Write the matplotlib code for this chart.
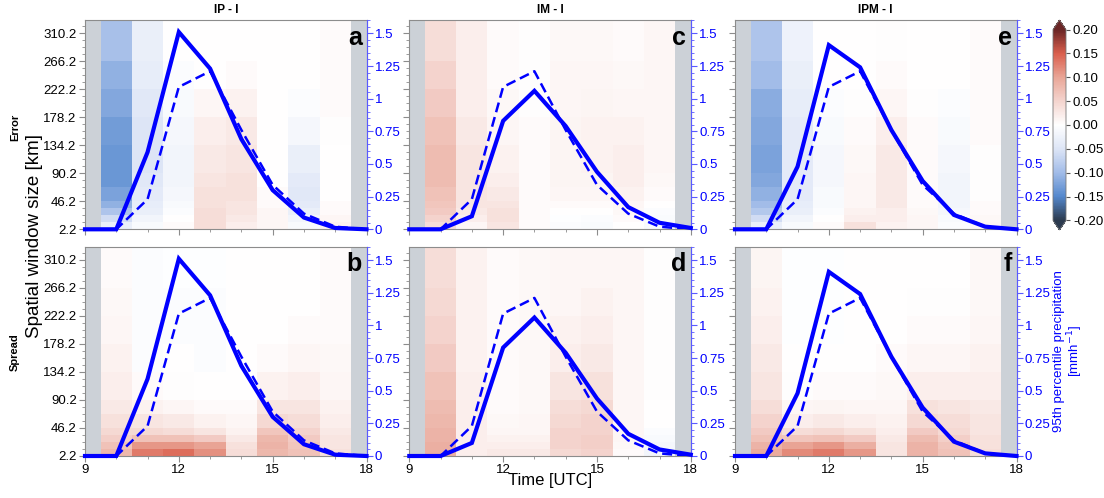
import numpy as np
import matplotlib
matplotlib.use('Agg')
import matplotlib.pyplot as plt
from matplotlib.colors import LinearSegmentedColormap, Normalize
from matplotlib.ticker import MultipleLocator, FixedLocator, FormatStrFormatter

plt.rcParams['font.family'] = ['Liberation Sans', 'DejaVu Sans']

# hourly 95th percentile precipitation [mm/h]
hours = [9, 10, 11, 12, 13, 14, 15, 16, 17, 18]
precip_I = [0, 0, 0.23, 1.09, 1.21, 0.76, 0.34, 0.12, 0.02, 0.0]
precip_IP = [0, 0, 0.59, 1.51, 1.23, 0.69, 0.30, 0.09, 0.01, 0.0]
precip_IM = [0, 0, 0.10, 0.83, 1.06, 0.79, 0.44, 0.17, 0.05, 0.01]
precip_IPM = [0, 0, 0.48, 1.41, 1.24, 0.76, 0.37, 0.11, 0.02, 0.0]

# score differences per hour (10..17 UTC), window sizes listed bottom to top
win_edges = [2.2, 13.2, 24.2, 35.2, 46.2, 68.2, 90.2, 134.2, 178.2, 222.2, 266.2, 330.2]
score_hours = [10, 11, 12, 13, 14, 15, 16, 17]

err_IP = [
    [-0.03, -0.06, -0.09, -0.11, -0.125, -0.135, -0.135, -0.13, -0.12, -0.11, -0.095],
    [-0.01, -0.02, -0.03, -0.035, -0.04, -0.045, -0.05, -0.05, -0.045, -0.035, -0.03],
    [0.005, 0.0, -0.005, -0.01, -0.015, -0.02, -0.02, -0.015, -0.01, -0.005, 0.0],
    [0.04, 0.04, 0.04, 0.035, 0.035, 0.03, 0.025, 0.02, 0.01, 0.0, 0.0],
    [0.02, 0.025, 0.03, 0.03, 0.035, 0.035, 0.03, 0.025, 0.015, 0.005, 0.0],
    [0.01, 0.01, 0.01, 0.005, 0.005, 0.0, 0.0, 0.0, 0.0, 0.0, 0.0],
    [-0.01, -0.02, -0.03, -0.04, -0.045, -0.04, -0.03, -0.015, -0.005, 0.0, 0.0],
    [0.015, 0.01, 0.005, 0.005, 0.0, 0.0, 0.0, 0.003, 0.005, 0.005, 0.005],
]
spr_IP = [
    [0.08, 0.07, 0.055, 0.045, 0.035, 0.025, 0.02, 0.015, 0.01, 0.008, 0.005],
    [0.13, 0.11, 0.07, 0.045, 0.03, 0.015, 0.005, -0.005, -0.005, -0.005, -0.005],
    [0.14, 0.11, 0.07, 0.04, 0.025, 0.01, 0.003, 0.0, -0.005, -0.005, -0.003],
    [0.115, 0.1, 0.06, 0.03, 0.015, 0.005, 0.0, -0.005, -0.005, -0.005, -0.003],
    [0.04, 0.035, 0.025, 0.015, 0.01, 0.005, 0.0, 0.0, 0.0, 0.0, 0.0],
    [0.08, 0.085, 0.08, 0.065, 0.045, 0.03, 0.015, 0.005, 0.0, 0.0, 0.0],
    [0.07, 0.065, 0.06, 0.05, 0.04, 0.03, 0.02, 0.01, 0.005, 0.0, 0.0],
    [0.035, 0.03, 0.03, 0.025, 0.02, 0.015, 0.01, 0.008, 0.005, 0.005, 0.005],
]
err_IM = [
    [0.04, 0.05, 0.06, 0.065, 0.07, 0.075, 0.075, 0.07, 0.06, 0.05, 0.04],
    [0.01, 0.02, 0.025, 0.03, 0.03, 0.03, 0.03, 0.025, 0.02, 0.02, 0.02],
    [0.03, 0.035, 0.035, 0.03, 0.025, 0.02, 0.015, 0.01, 0.008, 0.005, 0.005],
    [0.005, 0.005, 0.005, 0.005, 0.005, 0.005, 0.005, 0.005, 0.003, 0.002, 0.002],
    [-0.005, -0.003, 0.0, 0.005, 0.01, 0.012, 0.012, 0.012, 0.01, 0.01, 0.008],
    [-0.008, -0.005, 0.0, 0.005, 0.01, 0.012, 0.015, 0.015, 0.012, 0.01, 0.008],
    [0.0, 0.005, 0.008, 0.01, 0.015, 0.02, 0.02, 0.015, 0.01, 0.008, 0.005],
    [-0.01, -0.008, -0.005, 0.0, 0.005, 0.008, 0.01, 0.01, 0.01, 0.01, 0.01],
]
spr_IM = [
    [0.09, 0.09, 0.085, 0.085, 0.08, 0.075, 0.07, 0.06, 0.05, 0.045, 0.04],
    [0.02, 0.02, 0.02, 0.02, 0.02, 0.02, 0.018, 0.015, 0.015, 0.015, 0.015],
    [0.025, 0.02, 0.015, 0.01, 0.008, 0.005, 0.005, 0.005, 0.005, 0.005, 0.005],
    [0.025, 0.02, 0.015, 0.01, 0.01, 0.008, 0.008, 0.008, 0.008, 0.008, 0.008],
    [0.045, 0.05, 0.05, 0.05, 0.045, 0.04, 0.03, 0.02, 0.015, 0.01, 0.01],
    [0.05, 0.055, 0.055, 0.05, 0.05, 0.045, 0.035, 0.025, 0.02, 0.015, 0.01],
    [0.005, 0.008, 0.01, 0.01, 0.01, 0.01, 0.01, 0.01, 0.01, 0.01, 0.01],
    [-0.02, -0.015, -0.01, -0.005, 0.0, 0.0, 0.003, 0.003, 0.003, 0.003, 0.003],
]
err_IPM = [
    [-0.03, -0.06, -0.085, -0.1, -0.11, -0.12, -0.125, -0.12, -0.115, -0.1, -0.09],
    [-0.01, -0.02, -0.03, -0.035, -0.04, -0.04, -0.04, -0.04, -0.035, -0.03, -0.025],
    [0.005, 0.0, -0.005, -0.01, -0.01, -0.015, -0.015, -0.01, -0.005, 0.0, 0.0],
    [0.035, 0.02, 0.015, 0.01, 0.01, 0.01, 0.008, 0.005, 0.003, 0.0, 0.0],
    [0.015, 0.02, 0.02, 0.025, 0.025, 0.025, 0.025, 0.02, 0.01, 0.005, 0.003],
    [0.01, 0.01, 0.008, 0.005, 0.005, 0.005, 0.005, 0.005, 0.003, 0.0, 0.0],
    [-0.005, -0.01, -0.015, -0.02, -0.02, -0.02, -0.015, -0.01, -0.005, 0.0, 0.0],
    [0.01, 0.008, 0.005, 0.005, 0.003, 0.003, 0.003, 0.005, 0.005, 0.005, 0.005],
]
spr_IPM = [
    [0.095, 0.085, 0.07, 0.06, 0.05, 0.04, 0.03, 0.025, 0.02, 0.015, 0.012],
    [0.12, 0.1, 0.065, 0.04, 0.02, 0.01, 0.003, 0.0, -0.003, -0.003, -0.003],
    [0.13, 0.11, 0.07, 0.045, 0.025, 0.012, 0.005, 0.0, -0.003, -0.003, -0.003],
    [0.11, 0.09, 0.06, 0.035, 0.02, 0.01, 0.005, 0.0, 0.0, 0.0, 0.0],
    [0.03, 0.03, 0.025, 0.02, 0.015, 0.01, 0.008, 0.005, 0.0, 0.0, 0.0],
    [0.085, 0.085, 0.075, 0.06, 0.045, 0.035, 0.02, 0.01, 0.005, 0.003, 0.0],
    [0.07, 0.065, 0.055, 0.045, 0.04, 0.03, 0.02, 0.01, 0.005, 0.003, 0.0],
    [0.04, 0.035, 0.035, 0.03, 0.03, 0.025, 0.02, 0.015, 0.01, 0.008, 0.008],
]

titles = ['IP - I', 'IM - I', 'IPM - I']
letters = [['a', 'c', 'e'], ['b', 'd', 'f']]
scores = [[err_IP, err_IM, err_IPM], [spr_IP, spr_IM, spr_IPM]]
exp_lines = [precip_IP, precip_IM, precip_IPM]
cbar_ticks = [-0.2, -0.15, -0.1, -0.05, 0.0, 0.05, 0.1, 0.15, 0.2]
cbar_labels = ['-0.20', '-0.15', '-0.10', '-0.05', '0.00', '0.05', '0.10', '0.15', '0.20']

cmap = LinearSegmentedColormap.from_list('diff', [
    (0.0, '#2c3b4f'), (0.125, '#5488cd'), (0.25, '#a2bce8'), (0.375, '#dde5f6'),
    (0.5, '#ffffff'), (0.625, '#f4d4ce'), (0.75, '#e9a697'), (0.875, '#da5f4d'),
    (1.0, '#6b2626')])
cmap.set_over('#6b2626')
cmap.set_under('#2c3b4f')
norm = Normalize(vmin=-0.2, vmax=0.2)

blue = '#0000ff'
gray_bg = '#ccd1d7'
spine_gray = '#8c8c8c'

fig = plt.figure(figsize=(11.04, 4.98), dpi=100)

lefts = [85 / 1104, 409.3 / 1104, 735 / 1104]
bottoms = [1 - 229.3 / 498, 1 - 456 / 498]
w = 281.5 / 1104
h = 209 / 498

x_edges = np.arange(9.5, 18.0, 1.0)
yticks = np.arange(2.2, 320, 44)

for r in range(2):
    for c in range(3):
        ax = fig.add_axes([lefts[c], bottoms[r], w, h])
        ax.set_facecolor(gray_bg)
        Z = np.array(scores[r][c]).T
        ax.pcolormesh(x_edges, win_edges, Z, cmap=cmap, norm=norm, shading='flat')
        ax.set_xlim(9, 18)
        ax.set_ylim(2.2, 330.2)

        ax.set_yticks(yticks)
        ax.yaxis.set_minor_locator(FixedLocator(np.arange(2.2, 331, 11)))
        ax.set_xticks([9, 12, 15, 18])
        ax.xaxis.set_minor_locator(MultipleLocator(1))
        if c == 0:
            ax.set_yticklabels(['%.1f' % v for v in yticks])
        else:
            ax.set_yticklabels([])
        if r == 1:
            ax.set_xticklabels(['9', '12', '15', '18'])
        else:
            ax.set_xticklabels([])
        ax.tick_params(axis='both', which='major', direction='out', length=4,
                       color=spine_gray, labelsize=9.5, pad=2)
        ax.tick_params(axis='both', which='minor', direction='out', length=2,
                       color=spine_gray)
        for s in ax.spines.values():
            s.set_color(spine_gray)
            s.set_linewidth(0.8)

        ax2 = ax.twinx()
        ax2.plot(hours, exp_lines[c], color=blue, lw=3.0, solid_joinstyle='miter',
                 clip_on=False, zorder=3)
        ax2.plot(hours, precip_I, color=blue, lw=1.8, dashes=(4, 2), zorder=3)
        ax2.set_ylim(0, 1.6)
        ax2.set_yticks([0, 0.25, 0.5, 0.75, 1, 1.25, 1.5])
        ax2.yaxis.set_major_formatter(FormatStrFormatter('%g'))
        ax2.yaxis.set_minor_locator(MultipleLocator(0.05))
        ax2.tick_params(axis='y', which='major', direction='out', length=4,
                        color='#5a5aff', labelcolor=blue, labelsize=9.5, pad=2)
        ax2.tick_params(axis='y', which='minor', direction='out', length=2,
                        color='#5a5aff')
        ax2.spines['right'].set_color('#5a5aff')
        ax2.spines['right'].set_linewidth(0.8)
        for side in ['left', 'top', 'bottom']:
            ax2.spines[side].set_visible(False)

        ax2.text(0.983, 0.975, letters[r][c], transform=ax2.transAxes, ha='right',
                 va='top', fontsize=18, fontweight='bold', zorder=5)
        if r == 0:
            ax.set_title(titles[c], fontsize=8.5, fontweight='bold', pad=5)

# colour bar with both ends extended
cax = fig.add_axes([1053 / 1104, 1 - 230 / 498, 13 / 1104, 210 / 498])
cb = fig.colorbar(plt.cm.ScalarMappable(norm=norm, cmap=cmap), cax=cax, extend='both',
                  ticks=cbar_ticks)
cb.ax.set_yticklabels(cbar_labels)
cb.ax.tick_params(labelsize=9.5, length=3, color='#555555', pad=2)
cb.outline.set_edgecolor('#777777')
cb.outline.set_linewidth(0.6)

fig.text(15 / 1104, 1 - 127 / 498, 'Error', rotation=90, fontsize=8, fontweight='bold',
         ha='center', va='center')
fig.text(15 / 1104, 1 - 352 / 498, 'Spread', rotation=90, fontsize=8, fontweight='bold',
         ha='center', va='center')
fig.text(35 / 1104, 1 - 236 / 498, 'Spatial window size [km]', rotation=90,
         fontsize=13.5, ha='center', va='center')
fig.text(550 / 1104, 1 - 480 / 498, 'Time [UTC]', fontsize=12, ha='center', va='center')
fig.text(1069 / 1104, 1 - 351 / 498, '95th percentile precipitation\n[mmh$^{-1}$]',
         rotation=90, fontsize=9.5, color=blue, ha='center', va='center',
         multialignment='center', linespacing=1.1)

plt.savefig('out.png', dpi=100)
